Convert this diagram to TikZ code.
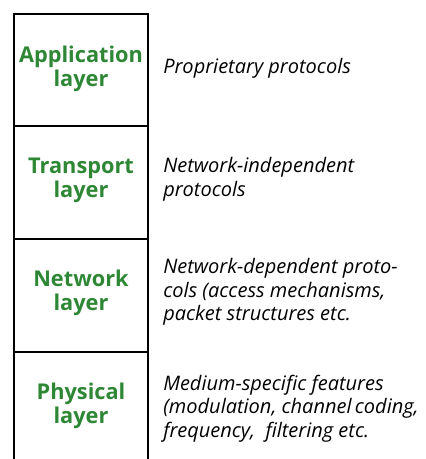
\documentclass[tikz,border=0pt]{standalone}
\usepackage{fontspec}
\setmainfont{Open Sans}
\definecolor{layergreen}{RGB}{46,135,53}
\begin{document}
\begin{tikzpicture}[x=0.75pt,y=-0.75pt,
  boxline/.style={line width=1.5pt},
  layername/.style={font=\fontsize{16.3}{17.8}\selectfont\bfseries, text=layergreen, align=center, inner sep=0pt},
  layerdesc/.style={font=\fontsize{15}{17.6}\selectfont\itshape, align=left, anchor=west, inner sep=0pt}]
\useasboundingbox (0,0) rectangle (425,459);
\draw[boxline] (14,459) -- (14,14) -- (148,14) -- (148,459);
\coordinate (d1l) at (14,126.5); \coordinate (d1r) at (148,126.5);
\coordinate (d2l) at (14,239); \coordinate (d2r) at (148,239);
\coordinate (d3l) at (14,351.5); \coordinate (d3r) at (148,351.5);
\draw[boxline] (d1l) -- (d1r);
\draw[boxline] (d2l) -- (d2r);
\draw[boxline] (d3l) -- (d3r);
\node[layername] (app) at (81,69) {Application\\layer};
\node[layername] (trans) at (81,180.5) {Transport\\layer};
\node[layername] (net) at (81,293) {Network\\layer};
\node[layername] (phys) at (81,405.5) {Physical\\layer};
\node[layerdesc] (appd) at (163,68) {Proprietary protocols};
\node[layerdesc] (transd) at (163,179.5) {Network-independent\\protocols};
\node[layerdesc] (netd) at (163,292) {Network-dependent proto-\\cols (access mechanisms,\\packet structures etc.};
\node[layerdesc] (physd) at (163,408.5) {Medium-specific features\\(modulation, channel\,coding,\\frequency,\ \ filtering etc.};
\end{tikzpicture}
\end{document}
